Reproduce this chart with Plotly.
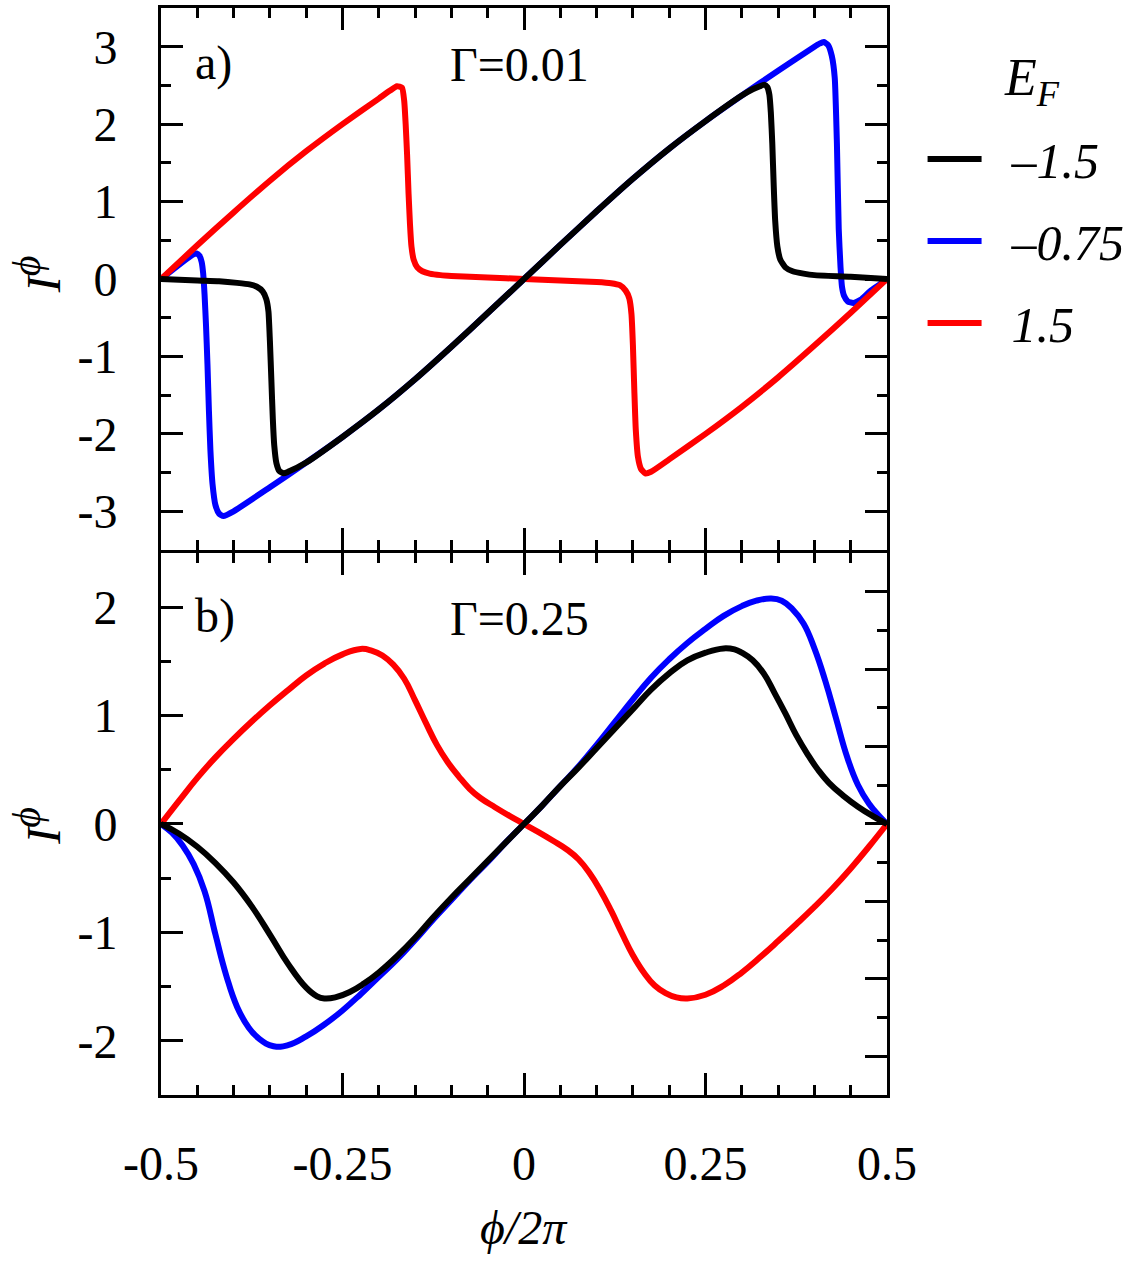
import plotly.graph_objects as go

# ---------------- data ----------------
# Panel a, Gamma = 0.01
xa_black = [-0.5, -0.45, -0.42, -0.395, -0.378, -0.368, -0.36, -0.355, -0.352, -0.35, -0.348, -0.346, -0.344,
            -0.341, -0.337, -0.331, -0.325, -0.30, -0.25, -0.20, -0.15, -0.10, -0.05, 0, 0.05, 0.10, 0.15, 0.20,
            0.25, 0.30, 0.315, 0.325, 0.331, 0.335, 0.338, 0.340, 0.342, 0.344, 0.346, 0.349, 0.353, 0.36, 0.37,
            0.385, 0.40, 0.45, 0.5]
ya_black = [0, -0.02, -0.03, -0.05, -0.07, -0.10, -0.16, -0.26, -0.42, -0.8, -1.3, -1.8, -2.15,
            -2.38, -2.48, -2.51, -2.49, -2.37, -2.04, -1.685, -1.295, -0.875, -0.44, 0, 0.44, 0.875, 1.295, 1.685,
            2.04, 2.37, 2.45, 2.49, 2.51, 2.48, 2.38, 2.15, 1.75, 1.2, 0.75, 0.42, 0.25, 0.15, 0.10,
            0.07, 0.05, 0.03, 0]

xa_blue = [-0.5, -0.485, -0.47, -0.46, -0.455, -0.451, -0.447, -0.444, -0.442, -0.440, -0.438, -0.436, -0.434,
           -0.432, -0.429, -0.425, -0.42, -0.414, -0.40, -0.35, -0.30, -0.25, -0.20, -0.15, -0.10, -0.05, 0,
           0.05, 0.10, 0.15, 0.20, 0.25, 0.30, 0.35, 0.40, 0.407, 0.413, 0.419, 0.424, 0.428, 0.431, 0.4335,
           0.436, 0.438, 0.441, 0.446, 0.4536, 0.465, 0.4766, 0.49, 0.5]
ya_blue = [0, 0.11, 0.22, 0.29, 0.32, 0.33, 0.30, 0.22, 0.08, -0.2, -0.6, -1.1, -1.7,
           -2.2, -2.65, -2.92, -3.03, -3.06, -3.0, -2.69, -2.37, -2.04, -1.685, -1.295, -0.875, -0.44, 0,
           0.44, 0.875, 1.295, 1.685, 2.04, 2.37, 2.69, 3.0, 3.04, 3.06, 3.02, 2.88, 2.6, 1.75, 0.65,
           0.15, -0.1, -0.22, -0.29, -0.31, -0.26, -0.16, -0.07, 0]

xa_red = [-0.5, -0.45, -0.40, -0.35, -0.30, -0.25, -0.20, -0.185, -0.175, -0.168, -0.165, -0.163, -0.161,
          -0.159, -0.157, -0.155, -0.152, -0.147, -0.14, -0.13, -0.115, -0.10, -0.05, 0, 0.05, 0.10, 0.12,
          0.132, 0.14, 0.145, 0.148, 0.150, 0.152, 0.154, 0.157, 0.161, 0.167, 0.175, 0.20, 0.25, 0.30,
          0.35, 0.40, 0.45, 0.5]
ya_red = [0, 0.435, 0.86, 1.27, 1.65, 2.0, 2.33, 2.43, 2.49, 2.47, 2.3, 2.0, 1.6,
          1.1, 0.7, 0.42, 0.25, 0.15, 0.10, 0.07, 0.05, 0.04, 0.02, 0, -0.02, -0.04, -0.055,
          -0.08, -0.15, -0.25, -0.45, -0.85, -1.45, -1.95, -2.3, -2.45, -2.51, -2.49, -2.33, -2.0, -1.65,
          -1.27, -0.86, -0.435, 0]

# Panel b, Gamma = 0.25
xb_black = [-0.5, -0.475, -0.45, -0.425, -0.40, -0.375, -0.35, -0.325, -0.30, -0.285, -0.275, -0.26, -0.24,
            -0.22, -0.20, -0.175, -0.15, -0.125, -0.10, -0.075, -0.05, -0.025, 0, 0.025, 0.05, 0.075, 0.10,
            0.125, 0.15, 0.175, 0.20, 0.225, 0.25, 0.275, 0.29, 0.30, 0.315, 0.33, 0.345, 0.36, 0.375, 0.39,
            0.405, 0.42, 0.44, 0.46, 0.48, 0.5]
yb_black = [0, -0.09, -0.21, -0.36, -0.54, -0.76, -1.02, -1.29, -1.51, -1.59, -1.61, -1.60, -1.55,
            -1.47, -1.37, -1.22, -1.05, -0.86, -0.68, -0.51, -0.34, -0.17, 0, 0.17, 0.35, 0.52, 0.70,
            0.88, 1.06, 1.24, 1.39, 1.51, 1.58, 1.62, 1.61, 1.58, 1.51, 1.39, 1.21, 1.02, 0.82, 0.65,
            0.50, 0.38, 0.26, 0.16, 0.075, 0]

xb_blue = [-0.5, -0.485, -0.47, -0.455, -0.44, -0.425, -0.41, -0.395, -0.38, -0.365, -0.345, -0.325, -0.30,
           -0.275, -0.25, -0.225, -0.20, -0.175, -0.15, -0.125, -0.10, -0.075, -0.05, -0.025, 0, 0.025, 0.05,
           0.075, 0.10, 0.125, 0.15, 0.175, 0.20, 0.225, 0.25, 0.275, 0.30, 0.32, 0.34, 0.355, 0.37, 0.385,
           0.40, 0.415, 0.43, 0.445, 0.46, 0.475, 0.49, 0.5]
yb_blue = [0, -0.08, -0.2, -0.37, -0.62, -1.02, -1.4, -1.69, -1.87, -1.98, -2.05, -2.04, -1.96,
           -1.85, -1.72, -1.57, -1.41, -1.25, -1.07, -0.88, -0.70, -0.52, -0.35, -0.17, 0, 0.17, 0.35,
           0.53, 0.73, 0.94, 1.15, 1.35, 1.52, 1.67, 1.80, 1.92, 2.01, 2.06, 2.08, 2.06, 1.98, 1.85,
           1.62, 1.32, 0.97, 0.62, 0.36, 0.19, 0.07, 0]

xb_red = [-0.5, -0.475, -0.45, -0.425, -0.40, -0.375, -0.35, -0.325, -0.30, -0.275, -0.25, -0.225, -0.21,
          -0.195, -0.18, -0.165, -0.15, -0.135, -0.12, -0.105, -0.09, -0.075, -0.06, -0.04, -0.02, 0, 0.02,
          0.04, 0.06, 0.075, 0.09, 0.105, 0.12, 0.135, 0.15, 0.165, 0.18, 0.195, 0.21, 0.225, 0.25, 0.275,
          0.30, 0.325, 0.35, 0.375, 0.40, 0.425, 0.45, 0.475, 0.5]
yb_red = [0, 0.215, 0.425, 0.615, 0.785, 0.945, 1.095, 1.235, 1.37, 1.48, 1.565, 1.615, 1.60,
          1.555, 1.47, 1.34, 1.14, 0.93, 0.73, 0.57, 0.44, 0.325, 0.24, 0.155, 0.075, 0, -0.075,
          -0.155, -0.24, -0.325, -0.45, -0.61, -0.80, -1.01, -1.21, -1.37, -1.49, -1.56, -1.60, -1.61, -1.575, -1.49,
          -1.37, -1.23, -1.08, -0.925, -0.765, -0.595, -0.41, -0.21, 0]

legend_names = ["–1.5", "–0.75", "1.5"]
x_tickvals = [-0.5, -0.25, 0, 0.25, 0.5]
x_ticktext = ["-0.5", "-0.25", "0", "0.25", "0.5"]
ya_tickvals = [-3, -2, -1, 0, 1, 2, 3]
ya_ticktext = ["-3", "-2", "-1", "0", "1", "2", "3"]
yb_tickvals = [-2, -1, 0, 1, 2]
yb_ticktext = ["-2", "-1", "0", "1", "2"]

# ---------------- figure ----------------
FONT = "Liberation Serif"
BLACK, BLUE, RED = "#000000", "#0000ff", "#ff0000"
LW = 6
NBSP = "\u00a0"

fig = go.Figure()

# draw order: blue, red, black (black on top); legend order via legendrank
specs = [
    (xa_blue, ya_blue, xb_blue, yb_blue, BLUE, legend_names[1], 2),
    (xa_red, ya_red, xb_red, yb_red, RED, legend_names[2], 3),
    (xa_black, ya_black, xb_black, yb_black, BLACK, legend_names[0], 1),
]
for xa, ya, xb, yb, col, name, rank in specs:
    fig.add_trace(go.Scatter(x=xa, y=ya, mode="lines", name=NBSP * 2 + name, legendgroup=name,
                             legendrank=rank,
                             line=dict(color=col, width=LW, shape="spline", smoothing=0.5),
                             xaxis="x", yaxis="y"))
    fig.add_trace(go.Scatter(x=xb, y=yb, mode="lines", name=NBSP * 2 + name, legendgroup=name,
                             legendrank=rank, showlegend=False,
                             line=dict(color=col, width=LW, shape="spline", smoothing=1.3),
                             xaxis="x2", yaxis="y2"))

# empty trace so that the right-hand tick axis of panel b exists
fig.add_trace(go.Scatter(x=[], y=[], xaxis="x2", yaxis="y3", showlegend=False, hoverinfo="skip"))

tickfont = dict(family=FONT, size=48, color="black")
common = dict(showline=True, linewidth=3, linecolor="black", showgrid=False, zeroline=False,
              ticks="inside", tickwidth=3, tickcolor="black", ticklen=22)

# domains overlap by the axis line width so that the shared border is a single line
A_DOM = [(1095 - 548.5) / 1090.0, 1]
B_DOM = [0, (1095 - 551.5) / 1090.0]

fig.update_layout(
    width=1140, height=1261,
    margin=dict(l=161, r=253, t=5, b=166),
    paper_bgcolor="white", plot_bgcolor="white",
    showlegend=True,
    legend=dict(x=1.049, xanchor="left", y=0.897, yanchor="top",
                font=dict(family=FONT, size=50, color="black", style="italic"),
                traceorder="grouped", tracegroupgap=14, itemwidth=54,
                bgcolor="rgba(0,0,0,0)"),
    xaxis=dict(domain=[0, 1], anchor="y", range=[-0.5, 0.5], tickvals=x_tickvals,
               showticklabels=False, mirror="ticks",
               minor=dict(dtick=0.05, tick0=0, ticks="inside", ticklen=10, tickwidth=3, tickcolor="black"),
               **common),
    yaxis=dict(domain=A_DOM, anchor="x", range=[-3.5, 3.5], tickvals=ya_tickvals, ticktext=ya_ticktext,
               tickfont=tickfont, ticklabelstandoff=31, mirror="ticks",
               minor=dict(dtick=0.5, tick0=0, ticks="inside", ticklen=10, tickwidth=3, tickcolor="black"),
               **common),
    xaxis2=dict(domain=[0, 1], anchor="y2", range=[-0.5, 0.5], tickvals=x_tickvals, ticktext=x_ticktext,
                tickfont=tickfont, ticklabelstandoff=24, mirror="ticks",
                minor=dict(dtick=0.05, tick0=0, ticks="inside", ticklen=10, tickwidth=3, tickcolor="black"),
                **common),
    yaxis2=dict(domain=B_DOM, anchor="x2", range=[-2.5, 2.5], tickvals=yb_tickvals, ticktext=yb_ticktext,
                tickfont=tickfont, ticklabelstandoff=31, mirror=True,
                minor=dict(dtick=0.5, tick0=0, ticks="inside", ticklen=10, tickwidth=3, tickcolor="black"),
                **common),
    yaxis3=dict(overlaying="y2", side="right", anchor="x2", range=[-3.5, 3.5], tickvals=ya_tickvals,
                showticklabels=False, showline=False, showgrid=False, zeroline=False,
                ticks="inside", tickwidth=3, tickcolor="black", ticklen=22,
                minor=dict(dtick=0.5, tick0=0, ticks="inside", ticklen=10, tickwidth=3, tickcolor="black")),
)

def px_x(p):
    return (p - 161) / 726.0

def px_y(p):
    return (1095 - p) / 1090.0

ann_font = dict(family=FONT, size=48, color="black")
ylab = "<i>I</i><sup><span style='font-size:40px'><i>ϕ</i></span></sup>"
annotations = [
    dict(text="a)", x=px_x(193), y=px_y(60), xanchor="left", yanchor="middle"),
    dict(text="Γ=0.01", x=px_x(519), y=px_y(62), xanchor="center", yanchor="middle"),
    dict(text="b)", x=px_x(193), y=px_y(615), xanchor="left", yanchor="middle"),
    dict(text="Γ=0.25", x=px_x(519), y=px_y(617), xanchor="center", yanchor="middle"),
    dict(text=ylab, x=px_x(37), y=px_y(272), xanchor="center", yanchor="middle", textangle=-90),
    dict(text=ylab, x=px_x(37), y=px_y(825), xanchor="center", yanchor="middle", textangle=-90),
    dict(text="<i>ϕ/2π</i>", x=0.5, y=px_y(1228), xanchor="center", yanchor="middle"),
    dict(text="<i>E<sub>F</sub></i>", x=px_x(1032), y=px_y(79), xanchor="center", yanchor="middle",
         font=dict(family=FONT, size=52, color="black")),
]
for a in annotations:
    a.setdefault("font", ann_font)
    a.update(xref="paper", yref="paper", showarrow=False)
fig.update_layout(annotations=annotations)

fig.write_html("out.html")
